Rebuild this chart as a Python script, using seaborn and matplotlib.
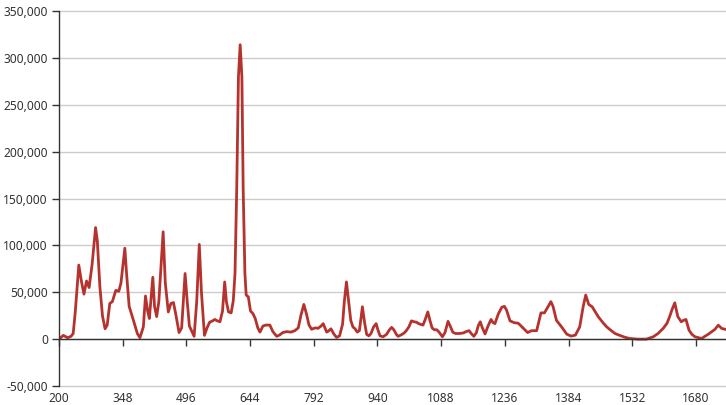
import numpy as np
import pandas as pd
import seaborn as sns
import matplotlib.pyplot as plt
from matplotlib.ticker import FuncFormatter

# spectrum
wavenumber = [200, 210, 220, 228, 233, 238, 246, 252, 258, 264, 270, 277, 285, 289, 295,
              301, 307, 312, 318, 324, 332, 339, 344, 353, 357, 363, 373, 382, 388, 396,
              401, 406, 410, 418, 422, 427, 432, 442, 447, 454, 460, 466, 472, 479, 485,
              493, 498, 503, 509, 514, 520, 526, 531, 538, 544, 550, 557, 562, 568, 574,
              580, 585, 589, 594, 600, 605, 609, 613, 617, 621, 625, 628, 632, 635, 640,
              645, 651, 656, 662, 667, 674, 681, 690, 697, 706, 713, 720, 729, 739, 748,
              756, 762, 769, 775, 781, 787, 792, 797, 802, 809, 814, 822, 826, 832, 838,
              845, 852, 859, 863, 868, 873, 878, 883, 888, 893, 898, 902, 905, 910, 915,
              920, 925, 931, 937, 941, 946, 953, 961, 968, 973, 978, 984, 988, 995, 1002,
              1007, 1013, 1019, 1025, 1031, 1036, 1042, 1046, 1051, 1057, 1062, 1067, 1072, 1078, 1084,
              1091, 1097, 1104, 1109, 1115, 1121, 1129, 1139, 1146, 1153, 1158, 1164, 1170, 1174, 1179,
              1183, 1190, 1197, 1204, 1208, 1213, 1221, 1229, 1235, 1240, 1248, 1258, 1267, 1276, 1289,
              1298, 1310, 1320, 1328, 1337, 1343, 1348, 1356, 1368, 1380, 1390, 1400, 1410, 1418, 1424,
              1431, 1439, 1445, 1453, 1465, 1473, 1480, 1492, 1503, 1515, 1526, 1545, 1565, 1581, 1592,
              1604, 1613, 1619, 1625, 1631, 1635, 1638, 1646, 1651, 1657, 1664, 1671, 1678, 1693, 1709,
              1724, 1732, 1740, 1750]
intensity = [0, 4000, 1500, 3000, 6000, 30000, 79000, 62000, 48000, 62000, 55000, 80000, 119000, 105000, 56000,
             25000, 11000, 15000, 38000, 40000, 52000, 51000, 60000, 97000, 70000, 35000, 20000, 6000, 1500, 13000,
             46000, 30000, 22000, 66000, 35000, 24000, 40000, 114500, 60000, 29000, 38000, 39000, 25000, 7000, 12000,
             70000, 40000, 14000, 8000, 3000, 40000, 101000, 50000, 4000, 12000, 18000, 19500, 21000, 19500, 18500,
             30000, 61000, 40000, 29000, 28000, 41000, 70000, 160000, 280000, 314000, 280000, 160000, 70000, 47000, 45000,
             30000, 27000, 22000, 12000, 7500, 14000, 15000, 15000, 8000, 3000, 4500, 7000, 8000, 7500, 9000,
             12000, 25000, 37000, 27000, 15000, 10500, 11500, 12000, 11500, 14000, 16500, 7500, 8500, 11000, 6000,
             1800, 3500, 16000, 40000, 61000, 40000, 20000, 13000, 11000, 7500, 9000, 23000, 34500, 18000, 5000,
             3500, 6000, 13000, 16500, 10000, 3500, 2500, 5000, 10000, 12500, 10000, 5000, 3000, 4500, 6500,
             9000, 13000, 19500, 18500, 18000, 16500, 15500, 15000, 21000, 29000, 20000, 12000, 10000, 10000, 7000,
             2500, 7000, 19000, 14000, 7500, 6000, 6000, 6500, 8000, 9000, 6000, 3000, 7000, 14000, 18500,
             13000, 5500, 14000, 21000, 18000, 16500, 27000, 34000, 35000, 31000, 19500, 17500, 17000, 13000, 7000,
             9000, 9000, 28000, 28000, 35000, 40000, 35000, 20000, 13000, 5300, 3200, 4300, 13000, 34500, 47000,
             37000, 34500, 30000, 24000, 17000, 13000, 10300, 6000, 4000, 2000, 700, 0, 0, 2500, 6000,
             11400, 17000, 24000, 32000, 38700, 30000, 24000, 18500, 20000, 21000, 9600, 5000, 2500, 700, 5300,
             10300, 14900, 11400, 10300]

x_ticks = list(range(200, 1750, 148))
y_ticks = list(range(-50000, 350001, 50000))

df = pd.DataFrame({'wavenumber': wavenumber, 'intensity': intensity})

sns.set_theme(style='white')
plt.rcParams['font.family'] = ['Noto Sans', 'DejaVu Sans']

fig = plt.figure(figsize=(7.26, 4.05), dpi=100)
ax = fig.add_axes([59 / 726, 19 / 405, 667 / 726, 375 / 405])

sns.lineplot(data=df, x='wavenumber', y='intensity', color='#b5332e', linewidth=2, ax=ax)

ax.set_xlim(200, 1750)
ax.set_ylim(-50000, 350000)
ax.set_xlabel('')
ax.set_ylabel('')
ax.set_yticks(y_ticks)
ax.yaxis.set_major_formatter(FuncFormatter(lambda v, p: f'{int(v):,}'))
ax.grid(axis='y', color='#cccccc', linewidth=1)
ax.set_axisbelow(True)
for gl in ax.get_ygridlines():
    gl.set_clip_on(False)

for s in ['top', 'right']:
    ax.spines[s].set_visible(False)
ax.spines['left'].set_color('#333333')
ax.spines['left'].set_linewidth(1)
ax.spines['bottom'].set_position(('data', 0))
ax.spines['bottom'].set_color('#333333')
ax.spines['bottom'].set_linewidth(1)

ax.tick_params(axis='y', length=5, width=1, color='#333333', labelsize=8.6, labelcolor='#333333', pad=3, left=True)
ax.set_xticks(x_ticks)
ax.tick_params(axis='x', direction='out', length=5, width=1, color='#333333', labelbottom=False, bottom=True)

sec = ax.secondary_xaxis(0)
sec.set_xticks(x_ticks)
sec.tick_params(length=0, labelsize=8.6, labelcolor='#333333', pad=4)
sec.spines['bottom'].set_visible(False)

plt.savefig('out.png', dpi=100)
